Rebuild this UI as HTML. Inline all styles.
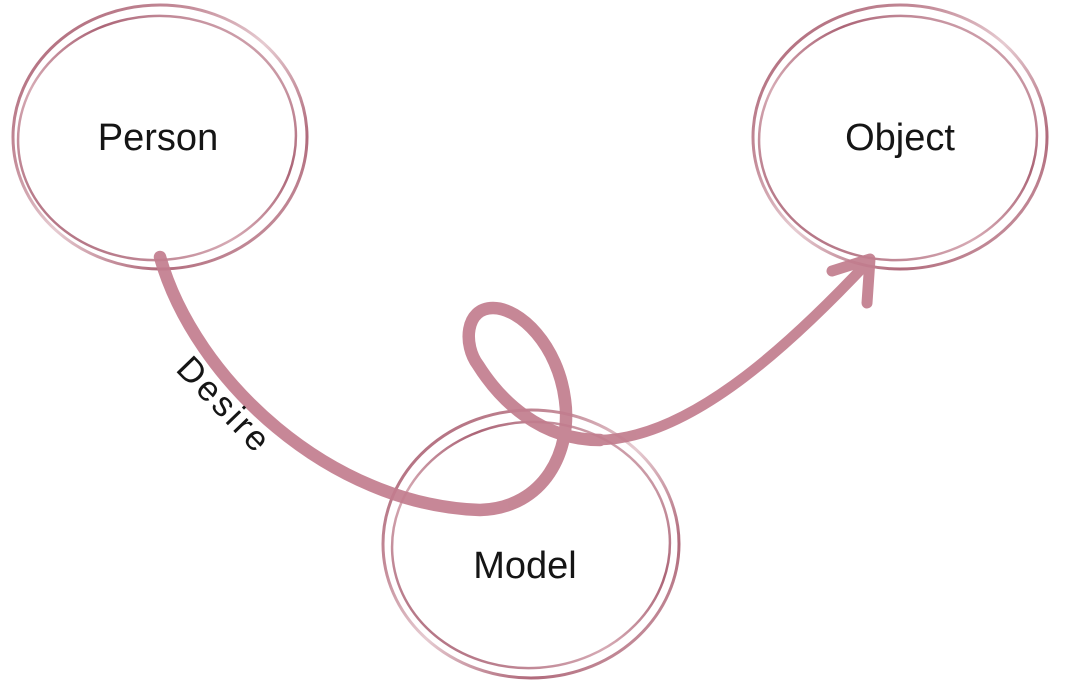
<!DOCTYPE html>
<html>
<head>
<meta charset="utf-8">
<style>
  html,body{margin:0;padding:0;background:#fff;}
  body{width:1071px;height:695px;overflow:hidden;}
  svg{display:block;}
  .lbl{font-family:"Liberation Sans","DejaVu Sans",sans-serif;font-size:38px;fill:#151515;}
</style>
</head>
<body>
<svg width="1071" height="695" viewBox="0 0 1071 695" xmlns="http://www.w3.org/2000/svg">
  <defs>
    <linearGradient id="g1" x1="0" y1="0" x2="1" y2="1">
      <stop offset="0" stop-color="#a85e70"/>
      <stop offset="0.3" stop-color="#c48c99"/>
      <stop offset="0.5" stop-color="#e6cbd1"/>
      <stop offset="0.75" stop-color="#b06a7b"/>
      <stop offset="1" stop-color="#d9b2bb"/>
    </linearGradient>
    <linearGradient id="g2" x1="1" y1="0" x2="0" y2="1">
      <stop offset="0" stop-color="#e3c4cb"/>
      <stop offset="0.35" stop-color="#ac6577"/>
      <stop offset="0.6" stop-color="#d6aab4"/>
      <stop offset="1" stop-color="#a35a6d"/>
    </linearGradient>
  </defs>

  <!-- Person -->
  <ellipse cx="160" cy="137" rx="147" ry="132" fill="none" stroke="url(#g1)" stroke-width="3"/>
  <ellipse cx="157" cy="138" rx="139" ry="122" fill="none" stroke="url(#g2)" stroke-width="2.5" transform="rotate(-4 157 138)"/>
  <text class="lbl" x="158" y="150" text-anchor="middle">Person</text>

  <!-- Object -->
  <ellipse cx="900" cy="137" rx="147" ry="132" fill="none" stroke="url(#g1)" stroke-width="3"/>
  <ellipse cx="898" cy="138" rx="139" ry="122" fill="none" stroke="url(#g2)" stroke-width="2.5" transform="rotate(-4 898 138)"/>
  <text class="lbl" x="900" y="150" text-anchor="middle">Object</text>

  <!-- Model -->
  <ellipse cx="531" cy="544" rx="148" ry="134" fill="none" stroke="url(#g1)" stroke-width="3"/>
  <ellipse cx="531" cy="545" rx="139" ry="123" fill="none" stroke="url(#g2)" stroke-width="2.5" transform="rotate(-4 531 545)"/>
  <text class="lbl" x="525" y="578" text-anchor="middle">Model</text>

  <!-- Connector -->
  <g fill="none" stroke="#c27d8e" stroke-linecap="round" stroke-linejoin="round" opacity="0.92">
    <path stroke-width="12.5" d="M160,257 C195,380 330,505 480,510
             C545,508 572,450 565,400
             C558,345 520,308 493,308
             C465,308 463,345 478,365
             C500,400 540,440 600,440"/>
    <path stroke-width="10.5" d="M600,440 C690,438 790,345 868,262"/>
    <path stroke-width="11" d="M832,271 L870,259 L867,303"/>
  </g>

  <!-- Desire label -->
  <text class="lbl" x="0" y="0" text-anchor="middle" style="font-size:35px;letter-spacing:3px" transform="translate(216 413) rotate(46)">Desire</text>
</svg>
</body>
</html>
